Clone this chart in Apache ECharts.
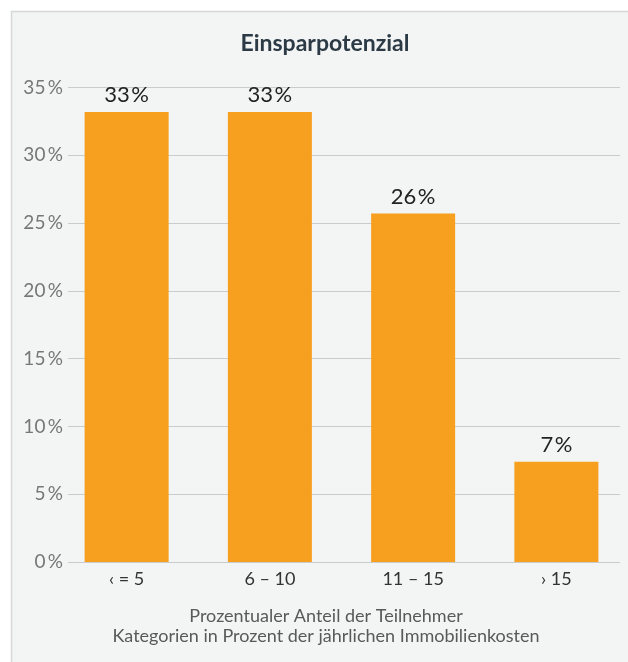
<!DOCTYPE html>
<html><head><meta charset="utf-8">
<script src="https://cdn.jsdelivr.net/npm/echarts@6/dist/echarts.min.js"></script>
<style>html,body{margin:0;padding:0;background:#fff}#c{width:628px;height:662px}</style>
</head><body><div id="c"></div>
<script>
const categories = ['\u2039 = 5', '6 \u2013 10', '11 \u2013 15', '\u203A 15'];
const values = [33.2, 33.2, 25.7, 7.4];
const yTicks = [0, 5, 10, 15, 20, 25, 30, 35];
const titleText = 'Einsparpotenzial';
const axisNote = 'Prozentualer Anteil der Teilnehmer\nKategorien in Prozent der jährlichen Immobilienkosten';

const FONT = 'Lato';
const chart = echarts.init(document.getElementById('c'), null, {renderer: 'canvas'});
chart.setOption({
  backgroundColor: '#ffffff',
  animation: false,
  graphic: [{
    type: 'rect', z: -10, silent: true,
    shape: {x: 11.5, y: 11.5, width: 700, height: 700},
    style: {fill: '#f3f4f4', stroke: '#d5d8d8', lineWidth: 1.5}
  }],
  title: [{
    text: titleText, left: 320, top: 27, textAlign: 'center',
    textStyle: {fontFamily: FONT, fontSize: 23, fontWeight: 'bold', color: '#2b3a45'}
  }, {
    text: axisNote, left: 321, top: 601, textAlign: 'center',
    textStyle: {fontFamily: FONT, fontSize: 18, fontWeight: 'normal', color: '#595959', lineHeight: 20}
  }],
  grid: [
    {left: 68, right: 8, top: 87.5, bottom: 100},
    {left: 55, width: 575, top: 87.5, bottom: 100}
  ],
  xAxis: [
    {gridIndex: 0, type: 'category', data: categories, show: false},
    {gridIndex: 1, type: 'category', data: categories,
     axisLine: {show: false}, axisTick: {show: false},
     axisLabel: {fontFamily: FONT, fontSize: 18, color: '#333', margin: 8}}
  ],
  yAxis: [
    {gridIndex: 0, type: 'value', min: 0, max: 35, interval: 5,
     axisLine: {show: false}, axisTick: {show: false},
     splitLine: {lineStyle: {color: '#c9cccc', width: 1}},
     axisLabel: {fontFamily: FONT, fontSize: 19, color: '#777', margin: 5,
       formatter: v => yTicks.includes(v) ? v + '\u2009%' : ''}},
    {gridIndex: 1, type: 'value', min: 0, max: 35, interval: 5, show: false,
     splitLine: {show: false}}
  ],
  series: [{
    type: 'bar', xAxisIndex: 1, yAxisIndex: 1, data: values,
    barWidth: 84,
    itemStyle: {color: '#f79f1e'},
    label: {show: true, position: 'top', distance: 6,
      fontFamily: FONT, fontSize: 22, color: '#222',
      formatter: p => Math.round(p.value) + '\u200A%'}
  }]
});
</script></body></html>
